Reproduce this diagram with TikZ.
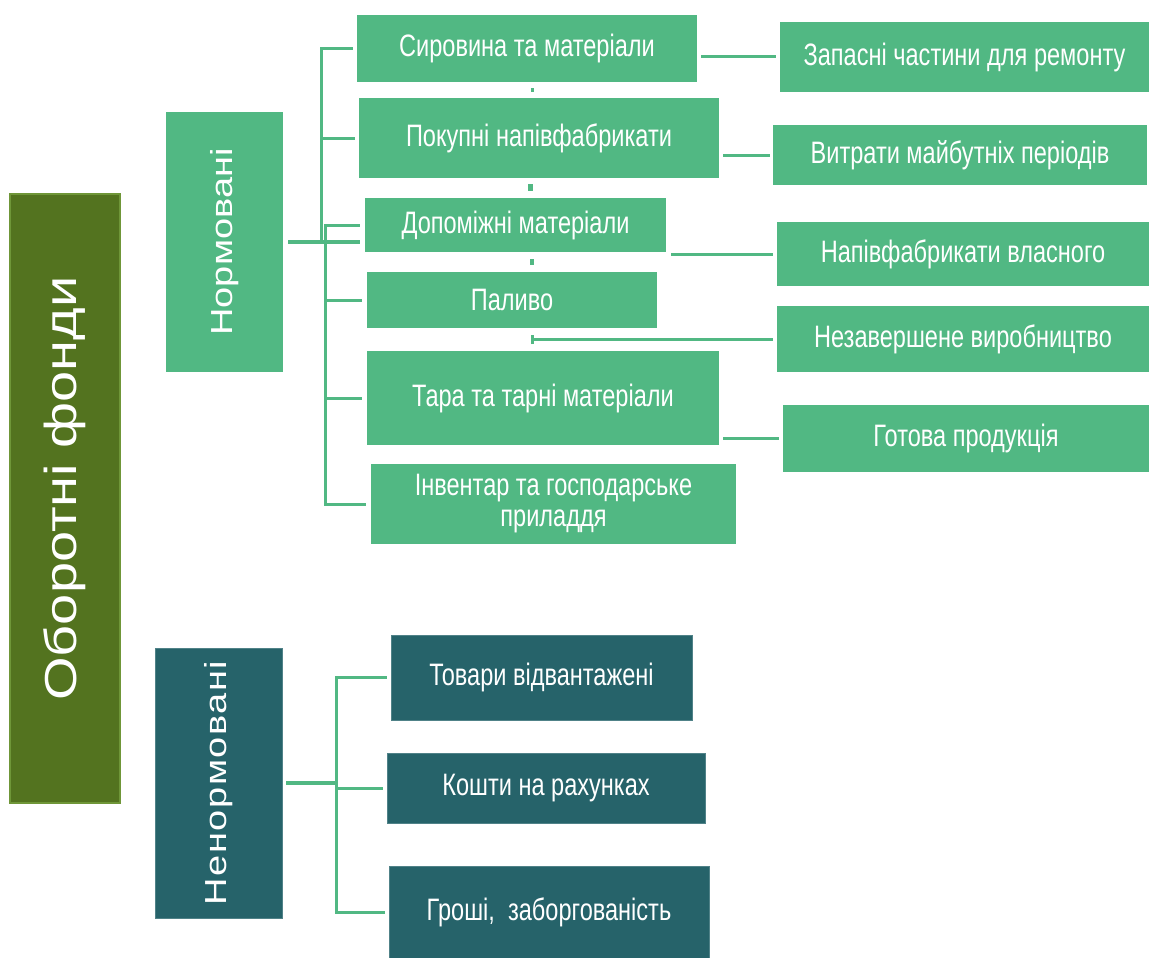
\documentclass[tikz,border=0pt]{standalone}
\usepackage{fontspec}
\setmainfont{Liberation Sans}
\newfontfamily\narrowfont[FakeStretch=0.76]{Liberation Sans}
\usetikzlibrary{calc}
\definecolor{leafgreen}{RGB}{81,184,131}
\definecolor{olive}{RGB}{83,115,31}
\definecolor{oliveedge}{RGB}{111,150,56}
\definecolor{teal}{RGB}{38,99,106}
\definecolor{tealedge}{RGB}{80,130,136}
\tikzset{
  box/.style={fill=leafgreen, text=white, inner sep=0pt, align=center,
    font=\narrowfont\fontsize{31}{32}\selectfont},
  darkbox/.style={box, fill=teal, draw=tealedge, line width=0.6pt},
  groupbox/.style={fill=leafgreen, text=white, inner sep=0pt, rotate=90,
    font=\fontsize{38}{40}\selectfont},
  rootbox/.style={fill=olive, draw=oliveedge, line width=2pt, text=white,
    inner sep=0pt, rotate=90, font=\fontsize{56}{60}\selectfont},
  conn/.style={draw=leafgreen, line width=3pt},
  trunk/.style={draw=leafgreen, line width=4.5pt},
}
\newcommand{\squash}[1]{\scalebox{1}[0.8]{#1}}
\begin{document}
\begin{tikzpicture}[x=1pt, y=-1pt]
\useasboundingbox (0,0) rectangle (1149,958);
\fill[white] (0,0) rectangle (1149,958);

% root and the two groups
\node[rootbox, minimum width=609, minimum height=110] (root) at (65,498.5) {\hspace{20pt}\squash{Оборотні фонди}};
\node[groupbox, minimum width=260, minimum height=117] (norm) at (224.5,242) {\squash{Нормовані}};
\node[groupbox, fill=teal, draw=tealedge, line width=0.6pt, minimum width=270, minimum height=127] (nenorm) at (218.5,783) {\squash{\addfontfeature{LetterSpace=4}Ненормовані}};

% normed items
\node[box, minimum width=340, minimum height=67] (s1) at (527,48.5) {Сировина та матеріали};
\node[box, minimum width=360, minimum height=80] (s2) at (539,138) {Покупні напівфабрикати};
\node[box, minimum width=301, minimum height=54] (s3) at (515.5,225) {Допоміжні матеріали};
\node[box, minimum width=290, minimum height=56] (s4) at (512,300) {Паливо};
\node[box, minimum width=352, minimum height=94] (s5) at (543,398) {Тара та тарні матеріали};
\node[box, minimum width=365, minimum height=80] (s6) at (553.5,504) {Інвентар та господарське\\[-1pt]приладдя};

% right-hand column
\node[box, minimum width=369, minimum height=70] (r1) at (964.5,57) {Запасні частини для ремонту};
\node[box, minimum width=374, minimum height=60] (r2) at (960,155) {Витрати майбутніх періодів};
\node[box, minimum width=372, minimum height=64] (r3) at (963,254) {Напівфабрикати власного};
\node[box, minimum width=372, minimum height=66] (r4) at (963,339) {Незавершене виробництво};
\node[box, minimum width=366, minimum height=67] (r5) at (966,438.5) {Готова продукція};

% non-normed items
\node[darkbox, minimum width=301, minimum height=85] (n1) at (541.5,677.5) {Товари відвантажені};
\node[darkbox, minimum width=318, minimum height=70] (n2) at (546,788) {Кошти на рахунках};
\node[darkbox, minimum width=320, minimum height=92] (n3) at (549,912) {Гроші,\ \ заборгованість};

% bus junctions
\coordinate (jA) at (321,242);
\coordinate (jB) at (325,226);
\coordinate (jC) at (336,783);
\coordinate (tick) at (532,339);

% upper tree
\draw[conn] ([xshift=-4pt]s1.west) -| (jA);
\draw[conn] ([xshift=-4pt]s2.west) -- (s2.west -| jA);
\draw[conn] ([xshift=-5pt]s3.west) -- (s3.west -| jB) -- (jB |- s6.west) -- ([xshift=-5pt]s6.west);
\draw[conn] ([xshift=-5pt]s4.west) -- (s4.west -| jB);
\draw[conn] ([xshift=-5pt]s5.west) -- (s5.west -| jB);
\draw[trunk] ([xshift=5pt]norm.south) -- ([xshift=-5pt]s3.west |- norm.south);

% lower tree
\draw[conn] ([xshift=-4pt]n1.west) -| (jC) |- ([xshift=-4pt]n3.west);
\draw[conn] ([xshift=-4pt]n2.west) -- (n2.west -| jC);
\draw[trunk] ([xshift=4pt]nenorm.south) -- (jC);

% right-hand links
\draw[conn] ([xshift=4pt]s1.east |- r1.west) -- ([xshift=-4pt]r1.west);
\draw[conn] ([xshift=4pt]s2.east |- r2.west) -- ([xshift=-3pt]r2.west);
\draw[conn] ([xshift=5pt]s3.east |- r3.west) -- ([xshift=-4pt]r3.west);
\draw[conn] (tick) -- ([xshift=-4pt]r4.west);
\draw[conn] ([yshift=-5pt]tick) -- ([yshift=4pt]tick);
\draw[conn] ([xshift=4pt]s5.east |- r5.west) -- ([xshift=-4pt]r5.west);

% short stubs showing between the stacked boxes
\fill[leafgreen] (530.5,88) rectangle (533.5,92);
\fill[leafgreen] (527.5,184) rectangle (532.5,191);
\fill[leafgreen] (530,259) rectangle (534,265);
\end{tikzpicture}
\end{document}
